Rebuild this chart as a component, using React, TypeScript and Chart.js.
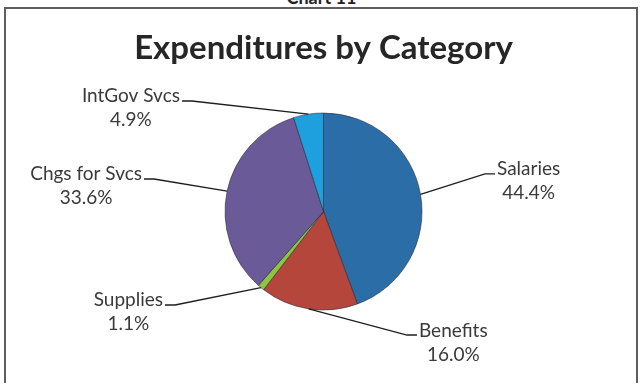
import React, { useEffect, useRef } from "react";
import { Chart, registerables } from "chart.js";

Chart.register(...registerables);

// ---- data ----
const categories = ["Salaries", "Benefits", "Supplies", "Chgs for Svcs", "IntGov Svcs"];
const shares = [44.4, 16.0, 1.1, 33.6, 4.9];
const percentLabels = ["44.4%", "16.0%", "1.1%", "33.6%", "4.9%"];
const chartTitle = "Expenditures by Category";
const pageCaption = "Chart 11";

// ---- styles / placement ----
const sliceColors = ["#2b6ea7", "#b4463c", "#8cc63e", "#6a5a98", "#1fa0de"];
// where each leader line meets its label, in pie radii from the pie centre
const labelAnchors: [number, number][] = [
  [1.741, -0.381],
  [0.949, 1.254],
  [-1.609, 0.949],
  [-1.822, -0.33],
  [-1.437, -1.122],
];

const LABEL_FONT = "19px Lato";

const leaderLabels = {
  id: "leaderLabels",
  afterDatasetsDraw(chart: any) {
    const ctx: CanvasRenderingContext2D = chart.ctx;
    const meta = chart.getDatasetMeta(0);
    ctx.save();
    meta.data.forEach((arc: any, i: number) => {
      const { x, y, startAngle, endAngle, outerRadius } = arc.getProps(
        ["x", "y", "startAngle", "endAngle", "outerRadius"],
        true
      );
      const mid = (startAngle + endAngle) / 2;
      const ex = x + Math.cos(mid) * outerRadius;
      const ey = y + Math.sin(mid) * outerRadius;
      const [ax, ay] = labelAnchors[i];
      const lx = x + ax * outerRadius;
      const ly = y + ay * outerRadius;
      const left = lx < x;
      const elbowX = left ? lx + 10 : lx - 10;

      ctx.strokeStyle = "#1e1e1e";
      ctx.lineWidth = 1.3;
      ctx.beginPath();
      ctx.moveTo(ex, ey);
      ctx.lineTo(elbowX, ly);
      ctx.lineTo(lx, ly);
      ctx.stroke();

      ctx.font = LABEL_FONT;
      ctx.fillStyle = "#3a3a3a";
      const name = categories[i];
      const w = ctx.measureText(name).width;
      const tx = left ? lx - 2 - w : lx + 2;
      const cx = tx + w / 2;
      ctx.textAlign = "center";
      ctx.textBaseline = "alphabetic";
      ctx.fillText(name, cx, ly + 1.5);
      ctx.fillText(percentLabels[i], cx, ly + 25.5);
    });
    ctx.restore();
  },
};

export default function App() {
  const canvasRef = useRef<HTMLCanvasElement | null>(null);

  useEffect(() => {
    document.body.style.margin = "0";
    document.body.style.background = "#ffffff";
    const canvas = canvasRef.current;
    if (!canvas) return;
    const chart = new Chart(canvas, {
      type: "pie",
      data: {
        labels: categories,
        datasets: [
          {
            data: shares,
            backgroundColor: sliceColors,
            borderColor: "rgba(35,35,55,0.55)",
            borderWidth: 1,
          },
        ],
      },
      options: {
        responsive: false,
        animation: false,
        devicePixelRatio: 1,
        layout: { padding: { left: 4, right: 0, top: 0, bottom: 72.5 } },
        plugins: {
          legend: { display: false },
          tooltip: { enabled: false },
          title: {
            display: true,
            text: chartTitle,
            color: "#262626",
            font: { family: "Lato", size: 33, weight: "bold", lineHeight: 1.2 },
            padding: { top: 29, bottom: 43.9 },
          },
        },
      },
      plugins: [leaderLabels],
    });
    return () => chart.destroy();
  }, []);

  return (
    <div
      style={{
        position: "relative",
        width: 643,
        height: 383,
        overflow: "hidden",
        background: "#ffffff",
        fontFamily: "Lato, sans-serif",
      }}
    >
      <div
        style={{
          position: "absolute",
          left: 0,
          width: 643,
          top: -12,
          textAlign: "center",
          fontSize: 18,
          lineHeight: "18px",
          fontWeight: "bold",
          color: "#222",
        }}
      >
        {pageCaption}
      </div>
      <div
        style={{
          position: "absolute",
          left: 4,
          top: 7,
          width: 634,
          height: 420,
          border: "2px solid #5e5e5e",
          boxSizing: "border-box",
        }}
      />
      <canvas
        ref={canvasRef}
        width={643}
        height={383}
        style={{ position: "absolute", left: 0, top: 0, width: 643, height: 383 }}
      />
    </div>
  );
}
